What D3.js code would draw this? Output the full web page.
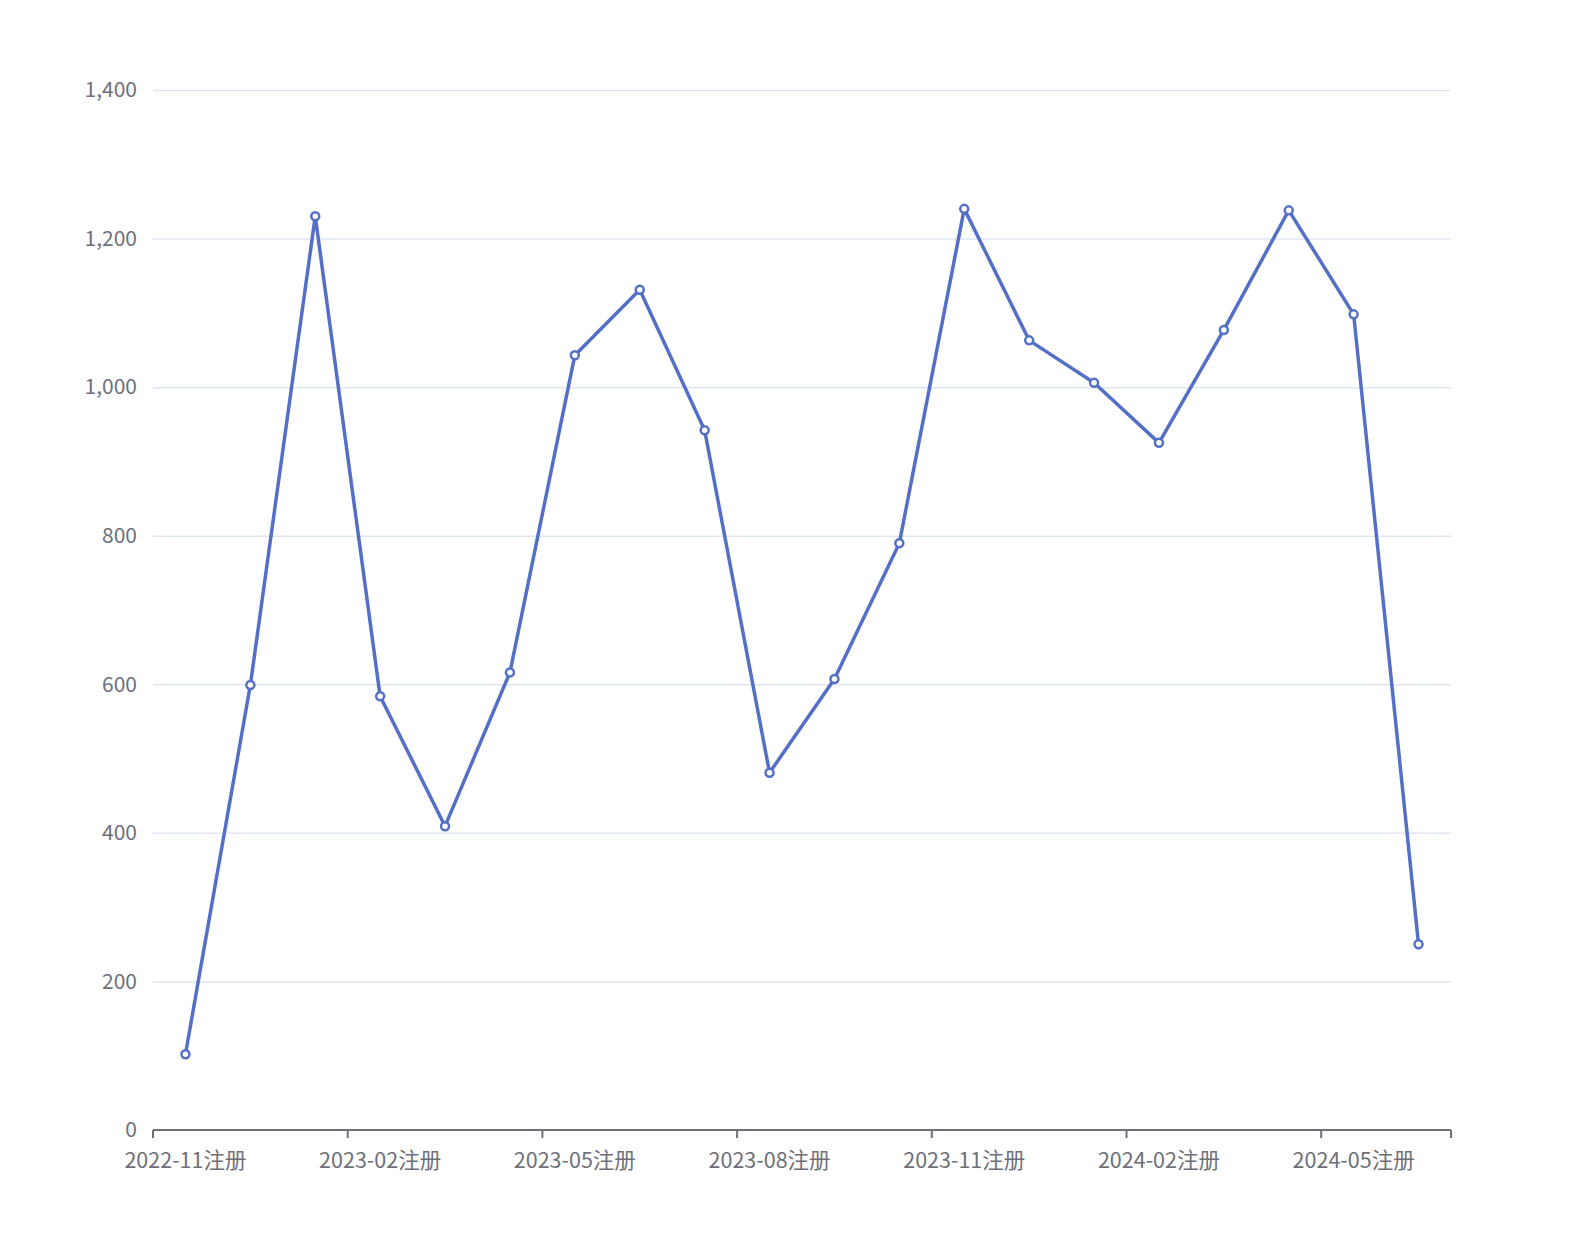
<!DOCTYPE html>
<html>
<head>
<meta charset="utf-8">
<script src="https://cdn.jsdelivr.net/npm/d3@7"></script>
<style>
  body { margin: 0; background: #fff; }
  text { font-family: "Noto Sans CJK SC", "Noto Sans", sans-serif; }
</style>
</head>
<body>
<div id="chart"></div>
<script>
// categories (months)
var months = ["2022-11注册", "2022-12注册", "2023-01注册", "2023-02注册", "2023-03注册",
  "2023-04注册", "2023-05注册", "2023-06注册", "2023-07注册", "2023-08注册",
  "2023-09注册", "2023-10注册", "2023-11注册", "2023-12注册", "2024-01注册",
  "2024-02注册", "2024-03注册", "2024-04注册", "2024-05注册", "2024-06注册"];

// registrations per month
var values = [102, 599, 1230, 584, 409, 616, 1043, 1131, 942, 481,
  607, 790, 1240, 1063, 1006, 925, 1077, 1238, 1098, 250];

var yTicks = [0, 200, 400, 600, 800, 1000, 1200, 1400];

var width = 1572, height = 1246;
var margin = { top: 90, right: 121, bottom: 116, left: 153 };

var svg = d3.select("#chart").append("svg")
  .attr("width", width)
  .attr("height", height);

var x = d3.scaleBand()
  .domain(months)
  .range([margin.left, width - margin.right]);

var y = d3.scaleLinear()
  .domain([0, 1400])
  .range([height - margin.bottom, margin.top]);

var labelColor = "#6e7079";

// grid lines
svg.append("g").selectAll("line")
  .data(yTicks.slice(1))
  .enter().append("line")
  .attr("x1", margin.left)
  .attr("x2", width - margin.right)
  .attr("y1", function (d) { return y(d) + 0.5; })
  .attr("y2", function (d) { return y(d) + 0.5; })
  .attr("stroke", "#e0e6f1")
  .attr("stroke-width", 1.5);

// y axis labels
svg.append("g").selectAll("text")
  .data(yTicks)
  .enter().append("text")
  .attr("x", margin.left - 16)
  .attr("y", function (d) { return y(d); })
  .attr("dy", "0.35em")
  .attr("text-anchor", "end")
  .attr("fill", labelColor)
  .attr("font-size", 21)
  .text(d3.format(","));

// x axis
var xAxis = svg.append("g")
  .attr("transform", "translate(0," + (height - margin.bottom) + ")");

xAxis.append("line")
  .attr("x1", margin.left)
  .attr("x2", width - margin.right)
  .attr("stroke", labelColor)
  .attr("stroke-width", 2);

// ticks every 3 categories, at band boundaries, plus the end
var tickIdx = months.map(function (d, i) { return i; }).filter(function (i) { return i % 3 === 0; });
var tickPos = tickIdx.map(function (i) { return x(months[i]); });
tickPos.push(x.range()[1]);

xAxis.selectAll(".tick")
  .data(tickPos)
  .enter().append("line")
  .attr("class", "tick")
  .attr("x1", function (d) { return d; })
  .attr("x2", function (d) { return d; })
  .attr("y1", 0)
  .attr("y2", 8)
  .attr("stroke", labelColor)
  .attr("stroke-width", 2);

xAxis.selectAll(".lbl")
  .data(tickIdx)
  .enter().append("text")
  .attr("class", "lbl")
  .attr("x", function (i) { return x(months[i]) + x.bandwidth() / 2; })
  .attr("y", 38)
  .attr("text-anchor", "middle")
  .attr("fill", labelColor)
  .attr("font-size", 21.5)
  .text(function (i) { return months[i]; });

// line
var line = d3.line()
  .x(function (d, i) { return x(months[i]) + x.bandwidth() / 2; })
  .y(function (d) { return y(d); });

svg.append("path")
  .datum(values)
  .attr("d", line)
  .attr("fill", "none")
  .attr("stroke", "#5470c6")
  .attr("stroke-width", 3.5)
  .attr("stroke-linejoin", "round");

svg.append("g").selectAll("circle")
  .data(values)
  .enter().append("circle")
  .attr("cx", function (d, i) { return x(months[i]) + x.bandwidth() / 2; })
  .attr("cy", function (d) { return y(d); })
  .attr("r", 4)
  .attr("fill", "#fff")
  .attr("stroke", "#5470c6")
  .attr("stroke-width", 2.5);
</script>
</body>
</html>
